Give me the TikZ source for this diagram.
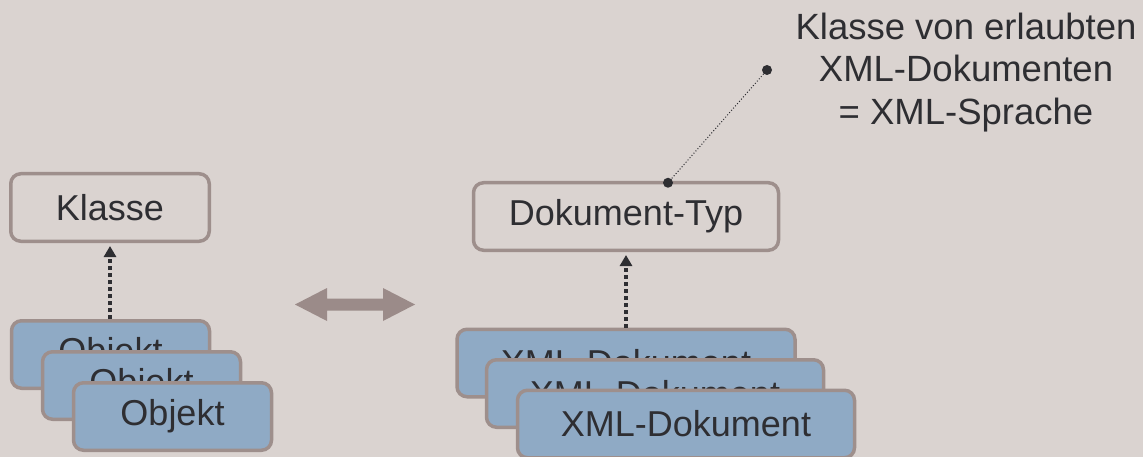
\documentclass[tikz,border=0pt]{standalone}
\usepackage{fontspec}
\setmainfont{Liberation Sans}
\usetikzlibrary{arrows.meta}
\definecolor{bgc}{HTML}{DAD3D0}
\definecolor{brd}{HTML}{9E8F8C}
\definecolor{bluef}{HTML}{8FAAC5}
\definecolor{txt}{HTML}{2E2E32}
\definecolor{arrc}{HTML}{9B8B89}
\tikzset{
  box/.style={draw=brd, line width=3.5pt, rounded corners=10pt, inner sep=0pt,
    minimum height=67.5pt, text=txt, font=\fontsize{36}{41}\selectfont},
  classbox/.style={box, fill=bgc},
  instbox/.style={box, fill=bluef},
  instof/.style={draw=txt, line width=4pt, dash pattern=on 4pt off 3pt,
    -{Triangle[width=12pt,length=11pt]}, shorten >=3pt},
  callout/.style={draw=txt, line width=1pt, dotted},
  calldot/.style={fill=txt, circle, inner sep=0pt, minimum size=10pt},
}
\begin{document}
\begin{tikzpicture}[x=1pt, y=-1pt]
\fill[bgc] (0,0) rectangle (1143,457);
\useasboundingbox (0,0) rectangle (1143,457);

% left side
\node[classbox, minimum width=198.5pt] (klasse) at (110,207.5) {Klasse};
\node[instbox, minimum width=198pt] (obj1) at (110.5,354.5) {Objekt};
\node[instbox, minimum width=198pt] (obj2) at (141.5,385.5) {Objekt};
\node[instbox, minimum width=198pt] (obj3) at (172.5,416.5) {Objekt};
\draw[instof] (obj1.north -| klasse.south) -- (klasse.south);

% double arrow
\fill[arrc] (295,304.5) -- (327,288) -- (327,298.5) -- (383,298.5) -- (383,288)
  -- (415,304.5) -- (383,321) -- (383,310.5) -- (327,310.5) -- (327,321) -- cycle;

% right side
\node[classbox, minimum width=305pt] (dtyp) at (626,216.5) {Dokument-Typ};
\node[instbox, minimum width=338pt] (xml1) at (626,363) {XML-Dokument};
\node[instbox, minimum width=337pt] (xml2) at (655,393.5) {XML-Dokument};
\node[instbox, minimum width=337pt] (xml3) at (686,424) {XML-Dokument};
\draw[instof] (xml1.north -| dtyp.south) -- (dtyp.south);

% callout
\node[text=txt, align=center, inner sep=0pt, font=\fontsize{36.5}{42.5}\selectfont]
  (note) at (966,72.5) {Klasse von erlaubten\\XML-Dokumenten\\= XML-Sprache};
\node[calldot] (d1) at (767,70) {};
\node[calldot] (d2) at (668,182.75) {};
\draw[callout] (d1) -- (d2);
\end{tikzpicture}
\end{document}
